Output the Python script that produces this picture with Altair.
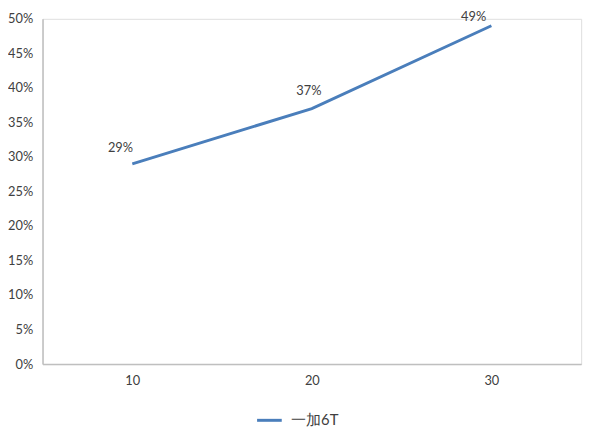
import altair as alt
import pandas as pd

categories = ["10", "20", "30"]
values = [0.29, 0.37, 0.49]
labels = ["29%", "37%", "49%"]
series = ["一加6T", "一加6T", "一加6T"]

df = pd.DataFrame({"x": categories, "y": values, "label": labels, "series": series})

FONT = "Lato"
TXT = "#404040"
BLUE = "#4A7EBB"
# label nudges (style): (dx, dy) per category
LABEL_OFFSETS = {"10": (-12, -16), "20": (-3, -18), "30": (-18, -9)}

base = alt.Chart(df).encode(
    x=alt.X("x:O", sort=categories,
            scale=alt.Scale(type="point", padding=0.5),
            axis=alt.Axis(title=None, labelAngle=0, ticks=False, domainColor="#BFBFBF",
                          domainWidth=1.5, labelPadding=11, labelFontSize=13,
                          labelColor=TXT, labelFont=FONT, grid=False)),
    y=alt.Y("y:Q", scale=alt.Scale(domain=[0, 0.5], nice=False),
            axis=alt.Axis(title=None, format=".0%", values=[i / 100 for i in range(0, 51, 5)],
                          ticks=False, domainColor="#BFBFBF", domainWidth=1.5,
                          labelPadding=10, labelFontSize=13, labelColor=TXT,
                          labelFont=FONT, grid=False)),
)

line = base.mark_line(strokeWidth=3).encode(
    color=alt.Color("series:N", scale=alt.Scale(range=[BLUE]),
                    legend=alt.Legend(title=None, orient="none", legendX=216, legendY=393,
                                      symbolType="stroke", symbolStrokeWidth=3,
                                      symbolSize=625, labelFontSize=15, labelFont=FONT,
                                      labelOffset=8,
                                      labelColor=TXT, direction="horizontal"))
)

texts = [
    base.transform_filter(alt.datum.x == cat)
    .mark_text(dx=dx, dy=dy, fontSize=13, font=FONT, color=TXT)
    .encode(text="label:N")
    for cat, (dx, dy) in LABEL_OFFSETS.items()
]

chart = alt.layer(line, *texts).properties(
    width=546, height=350,
    padding={"left": 35, "top": 8, "right": 11, "bottom": 75},
    autosize=alt.AutoSizeParams(type="none"),
).configure_view(stroke=None).configure(background="white")

chart.save("out.html", embed_options={"renderer": "svg", "actions": False})
